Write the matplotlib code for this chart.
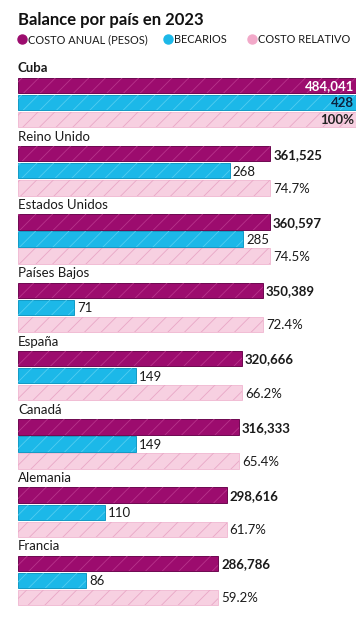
import matplotlib.pyplot as plt
from matplotlib.lines import Line2D

plt.rcParams['font.family'] = ['Lato', 'DejaVu Sans']
plt.rcParams['hatch.linewidth'] = 0.6

paises = ['Cuba', 'Reino Unido', 'Estados Unidos', 'Países Bajos',
          'España', 'Canadá', 'Alemania', 'Francia']
costo_anual = [484041, 361525, 360597, 350389, 320666, 316333, 298616, 286786]
becarios = [428, 268, 285, 71, 149, 149, 110, 86]
costo_relativo = [100, 74.7, 74.5, 72.4, 66.2, 65.4, 61.7, 59.2]
series = ['COSTO ANUAL (PESOS)', 'BECARIOS', 'COSTO RELATIVO']

fills = ['#9c0c6e', '#1cb8e8', '#f7d0e1']
edges = ['#6e0850', '#1399c4', '#f1bdd5']
hatches = ['#b8348c', '#52cdf1', '#e9a7c6']
inside_col = ['white', '#0b2440', '#222222']

def fmt(k, v):
    if k == 0:
        return f'{v:,}'
    if k == 1:
        return str(v)
    return f'{v:g}%'

W, H = 363, 620
fig = plt.figure(figsize=(W / 100, H / 100), dpi=100)
ax = fig.add_axes([18 / W, 0.00865, 338 / W, 0.8948])
ax.set_xlim(0, 1)
ax.set_ylim(32, -0.5)
ax.axis('off')

for k, vals in enumerate([costo_anual, becarios, costo_relativo]):
    mx = max(vals)
    norm = [v / mx for v in vals]
    rows = [4 * i + k + 1 for i in range(len(vals))]
    ax.barh(rows, norm, height=0.9, color=fills[k], edgecolor=edges[k], linewidth=0.7)
    ax.barh(rows, norm, height=0.9, color='none', edgecolor=hatches[k], hatch='//', linewidth=0)
    for i, v in enumerate(vals):
        bold = 'bold' if k == 0 or i == 0 else 'normal'
        if i == 0:
            ax.text(norm[i] - 0.006, rows[i] + 0.05, fmt(k, v), ha='right', va='center',
                    fontsize=9.5, fontweight='bold', color=inside_col[k])
        else:
            ax.text(norm[i] + 0.009, rows[i] + 0.05, fmt(k, v), ha='left', va='center',
                    fontsize=9.5, fontweight=bold, color='#1a1a1a')

for i, p in enumerate(paises):
    ax.text(0, 4 * i, p, ha='left', va='center', fontsize=9.5,
            fontweight='bold' if i == 0 else 'normal', color='#1a1a1a')

fig.text(18 / W, 1 - 20 / H, 'Balance por país en 2023', fontsize=12,
         fontweight='bold', va='center', color='#111111')

leg_x = [21.5, 168, 252]
for k, name in enumerate(series):
    fig.add_artist(Line2D([leg_x[k] / W], [1 - 39 / H], marker='o', markersize=6.5,
                          color=fills[k] if k < 2 else '#f2a9c9', linestyle='none',
                          transform=fig.transFigure))
    fig.text((leg_x[k] + 6) / W, 1 - 39.5 / H, name, fontsize=7.9, va='center',
             color='#1a1a1a')

fig.savefig('out.png', dpi=100)
